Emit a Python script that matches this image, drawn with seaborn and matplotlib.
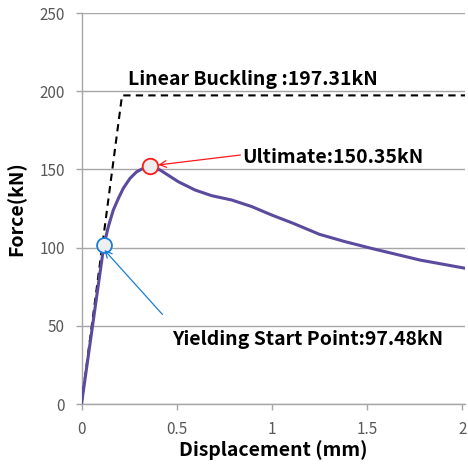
import matplotlib
matplotlib.use("Agg")
import matplotlib.pyplot as plt
import seaborn as sns
import pandas as pd

# ---- data ----
disp = [0, 0.118, 0.141, 0.167, 0.194, 0.22, 0.255, 0.29, 0.325, 0.36, 0.413, 0.509,
        0.597, 0.684, 0.79, 0.895, 1.0, 1.113, 1.25, 1.385, 1.52, 1.78, 2.02]
force = [0, 101.7, 113.4, 124, 131.5, 138, 144.3, 148.5, 150.7, 151.8, 149.6, 142.1,
         136.8, 133.2, 130.4, 126.2, 120.8, 115.5, 108.5, 103.8, 99.6, 92, 86.7]
buck_x = [0, 0.213, 2.05]
buck_y = [0, 197.31, 197.31]
yield_pt = (0.118, 101.7)
ult_pt = (0.36, 152.2)
x_ticks = [0, 0.5, 1, 1.5, 2]
x_tick_labels = ["0", "0.5", "1", "1.5", "2"]
y_ticks = [0, 50, 100, 150, 200, 250]

sns.set_theme(style="white")
plt.rcParams['font.family'] = ['Noto Sans CJK KR', 'DejaVu Sans']

fig = plt.figure(figsize=(4.68, 4.65), dpi=100)
ax = fig.add_axes([81.5 / 468, 61 / 465, (465 - 81.5) / 468, 391 / 465])

df = pd.DataFrame({"x": disp, "y": force})
dfb = pd.DataFrame({"x": buck_x, "y": buck_y})
sns.lineplot(data=dfb, x="x", y="y", ax=ax, color="black", lw=1.5,
             linestyle=(0, (3.5, 2.5)), zorder=3)
sns.lineplot(data=df, x="x", y="y", ax=ax, color="#5b4a9e", lw=2.2, zorder=4)
sns.scatterplot(x=[yield_pt[0]], y=[yield_pt[1]], ax=ax, s=115, color="#eeeeee",
                edgecolor="#1b7fd6", linewidth=1.3, zorder=6)
sns.scatterplot(x=[ult_pt[0]], y=[ult_pt[1]], ax=ax, s=125, color="#eeeeee",
                edgecolor="#ff1a1a", linewidth=1.3, zorder=6)

ax.set_xlim(0, 2.015)
ax.set_ylim(0, 250)
ax.set_xticks(x_ticks)
ax.set_xticklabels(x_tick_labels)
ax.set_yticks(y_ticks)
ax.yaxis.grid(True, color="#a6a6a6", lw=1.0)
ax.xaxis.grid(False)
for s in ["top", "right"]:
    ax.spines[s].set_visible(False)
for s in ["left", "bottom"]:
    ax.spines[s].set_color("#a6a6a6")
    ax.spines[s].set_linewidth(1.0)
ax.tick_params(axis="both", which="both", length=4, width=1.0, color="#a6a6a6",
               labelcolor="#595959", labelsize=11, direction="out",
               bottom=True, left=True)
ax.tick_params(axis="x", pad=8)
ax.tick_params(axis="y", pad=8)
ax.set_xlabel("Displacement (mm)", fontsize=14, fontweight="bold", color="black", labelpad=2)
ax.set_ylabel("Force(kN)", fontsize=14, fontweight="bold", color="black", labelpad=9)

ax.text(0.244, 204, "Linear Buckling :197.31kN", fontsize=14, fontweight="bold",
        ha="left", va="baseline", color="black", zorder=7)
ax.text(0.844, 153.9, "Ultimate:150.35kN", fontsize=14, fontweight="bold",
        ha="left", va="baseline", color="black", zorder=7)
ax.text(0.474, 37.7, "Yielding Start Point:97.48kN", fontsize=14, fontweight="bold",
        ha="left", va="baseline", color="black", zorder=7)

ax.annotate("", xy=ult_pt, xytext=(0.835, 159.2),
            arrowprops=dict(arrowstyle="->", color="#ff1a1a", lw=0.9, shrinkA=0, shrinkB=6),
            zorder=7)
ax.annotate("", xy=(0.12, 98.5), xytext=(0.425, 57.3),
            arrowprops=dict(arrowstyle="->", color="#1b7fd6", lw=0.9, shrinkA=0, shrinkB=0),
            zorder=7)

fig.savefig("out.png", dpi=100)
